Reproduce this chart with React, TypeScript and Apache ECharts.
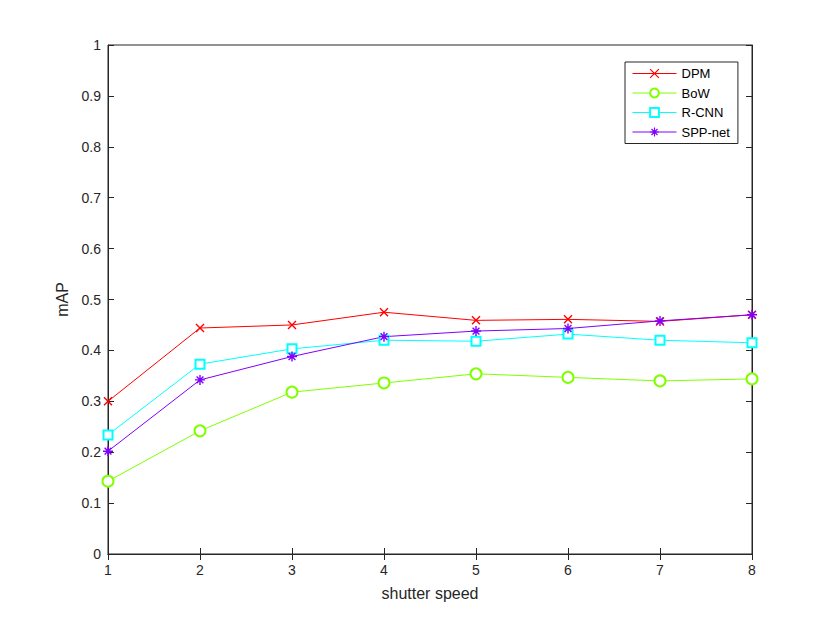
import React, { useEffect, useRef } from "react";
import * as echarts from "echarts";

const shutterSpeeds = [1, 2, 3, 4, 5, 6, 7, 8];
const dpm = [0.3, 0.444, 0.45, 0.475, 0.459, 0.461, 0.457, 0.47];
const bow = [0.143, 0.242, 0.318, 0.336, 0.354, 0.347, 0.34, 0.344];
const rcnn = [0.234, 0.373, 0.403, 0.42, 0.418, 0.432, 0.42, 0.415];
const sppnet = [0.202, 0.342, 0.388, 0.427, 0.438, 0.443, 0.458, 0.47];
const seriesNames = ["DPM", "BoW", "R-CNN", "SPP-net"];

const AXIS = "#262626";
const FONT = "Liberation Sans, Arial, Helvetica, sans-serif";
const CROSS = "path://M0,0L10,10M10,0L0,10";
const STAR = "path://M5,0L5,10M0,5L10,5M1.6,1.6L8.4,8.4M8.4,1.6L1.6,8.4";

export default function App() {
  const ref = useRef<HTMLDivElement>(null);
  useEffect(() => {
    if (!ref.current) return;
    const chart = echarts.init(ref.current, undefined, { renderer: "svg" });
    const mk = (name: string, data: number[], color: string, symbol: string, size: number) => ({
      name,
      type: "line",
      data: data.map((v, i) => [shutterSpeeds[i], v]),
      xAxisIndex: 0,
      yAxisIndex: 0,
      symbol,
      symbolSize: size,
      showAllSymbol: true,
      lineStyle: { color, width: 1 },
      itemStyle: { color, borderColor: color, borderWidth: 1.4 },
      emphasis: { disabled: true },
    });
    const ticks = { show: true, inside: true, length: 6, lineStyle: { color: AXIS } };
    chart.setOption({
      animation: false,
      textStyle: { fontFamily: FONT },
      grid: {
        left: 108,
        top: 45,
        width: 644,
        height: 509,
        show: true,
        borderColor: AXIS,
        borderWidth: 1,
        backgroundColor: "transparent",
      },
      legend: {
        orient: "vertical",
        left: 625,
        top: 62,
        width: 112,
        data: seriesNames,
        itemWidth: 44,
        itemHeight: 11,
        itemGap: 6.5,
        padding: [5, 8, 5, 7],
        borderColor: AXIS,
        borderWidth: 1,
        backgroundColor: "#fff",
        lineStyle: { width: 1 },
        itemStyle: { borderWidth: 1.2 },
        textStyle: { fontSize: 13, color: "#000", fontFamily: FONT },
      },
      xAxis: [
        {
          type: "value",
          min: 1,
          max: 8,
          interval: 1,
          name: "shutter speed",
          nameLocation: "middle",
          nameGap: 31,
          nameTextStyle: { fontSize: 16, color: AXIS, fontFamily: FONT },
          axisLine: { lineStyle: { color: AXIS } },
          axisTick: ticks,
          axisLabel: { color: AXIS, fontSize: 14, margin: 9, fontFamily: FONT },
          splitLine: { show: false },
        },
        {
          type: "value",
          position: "top",
          min: 1,
          max: 8,
          interval: 1,
          axisLine: { lineStyle: { color: AXIS } },
          axisTick: ticks,
          axisLabel: { show: false },
          splitLine: { show: false },
        },
      ],
      yAxis: [
        {
          type: "value",
          min: 0,
          max: 1,
          interval: 0.1,
          name: "mAP",
          nameLocation: "middle",
          nameGap: 38,
          nameTextStyle: { fontSize: 16, color: AXIS, fontFamily: FONT },
          axisLine: { show: true, lineStyle: { color: AXIS } },
          axisTick: ticks,
          axisLabel: {
            color: AXIS,
            fontSize: 14,
            margin: 7,
            fontFamily: FONT,
            formatter: (v: number) => String(Math.round(v * 10) / 10),
          },
          splitLine: { show: false },
        },
        {
          type: "value",
          position: "right",
          min: 0,
          max: 1,
          interval: 0.1,
          axisLine: { show: true, lineStyle: { color: AXIS } },
          axisTick: ticks,
          axisLabel: { show: false },
          splitLine: { show: false },
        },
      ],
      series: [
        mk("DPM", dpm, "#ff0000", CROSS, 8),
        mk("BoW", bow, "#80ff00", "emptyCircle", 11),
        mk("R-CNN", rcnn, "#00ffff", "emptyRect", 9),
        mk("SPP-net", sppnet, "#8000ff", STAR, 10),
      ],
    });
    return () => chart.dispose();
  }, []);
  return (
    <div
      ref={ref}
      style={{ position: "absolute", left: 0, top: 0, width: 830, height: 623, background: "#fff" }}
    />
  );
}
